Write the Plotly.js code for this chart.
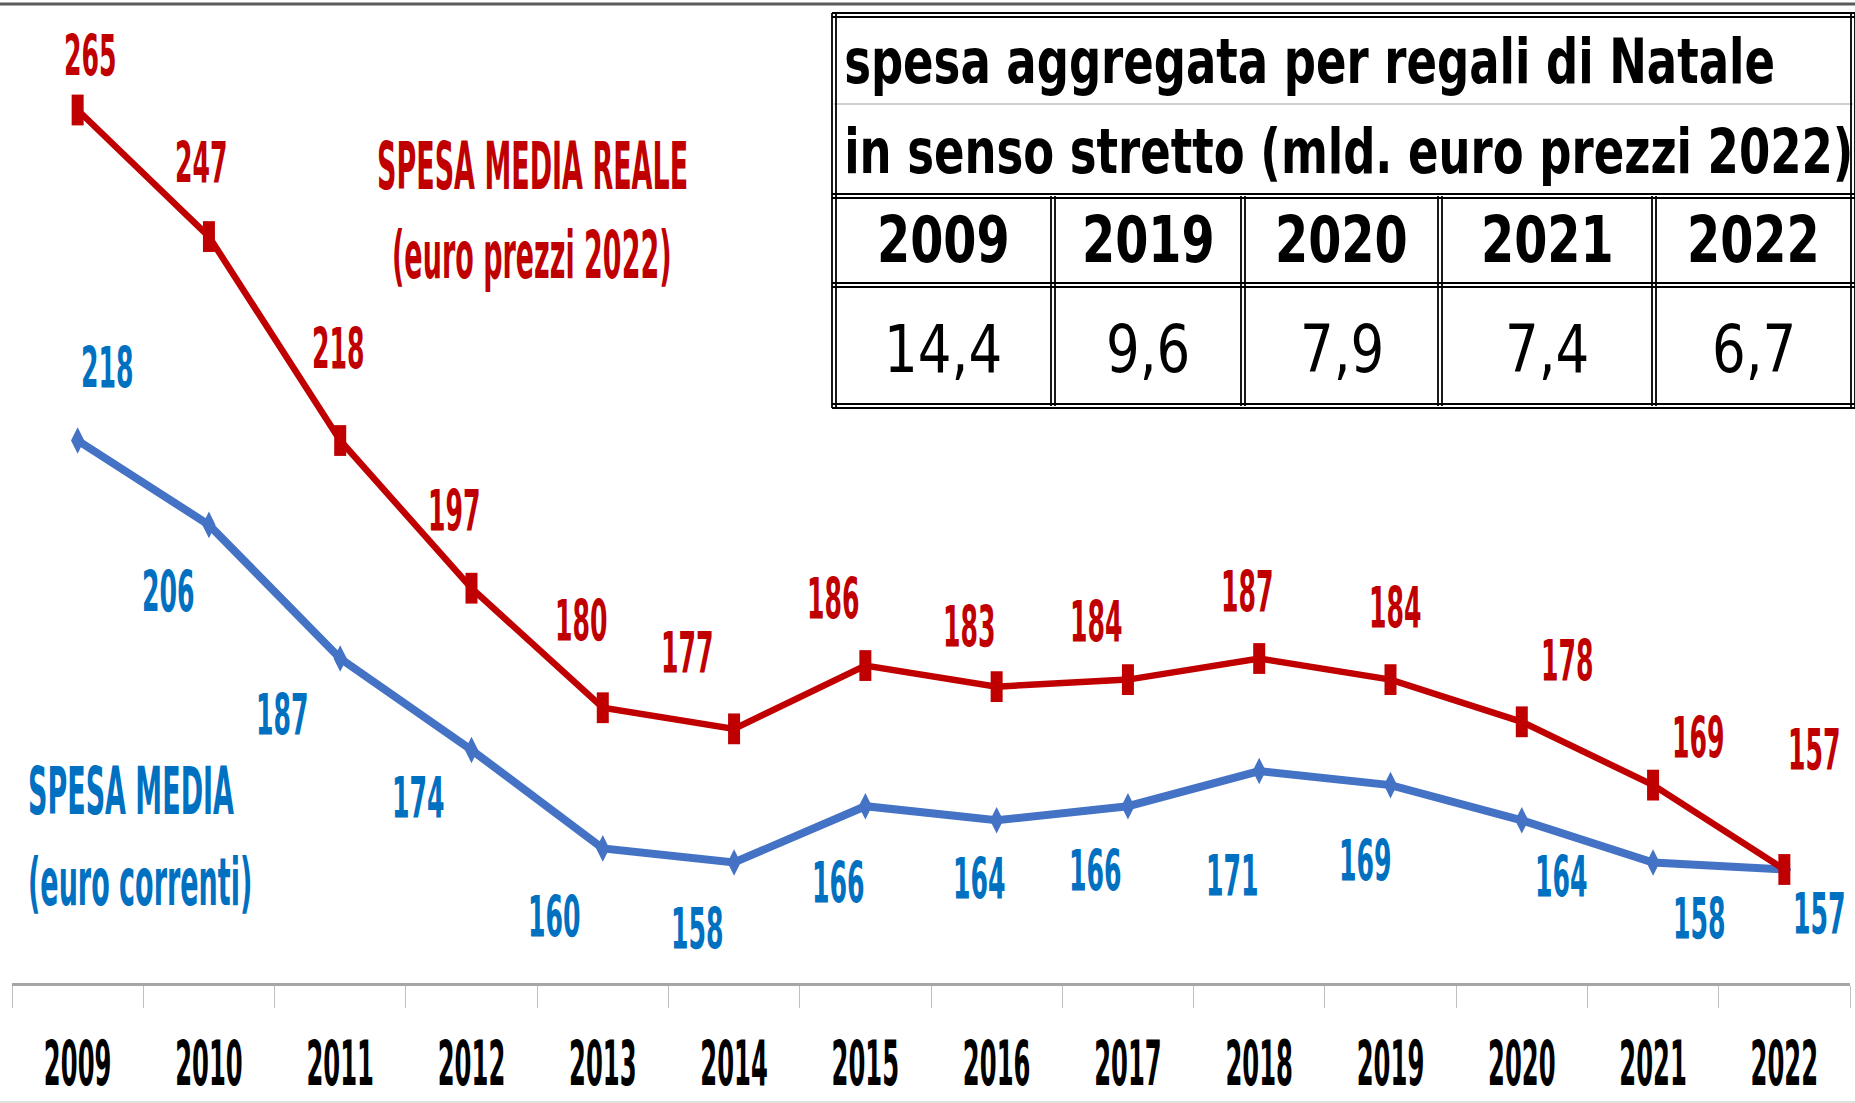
<!DOCTYPE html>
<html>
<head>
<meta charset="utf-8">
<script src="https://cdn.plot.ly/plotly-3.0.1.min.js"></script>
<style>
  html, body { margin: 0; padding: 0; background: #ffffff; }
  #chart { width: 1855px; height: 1103px; }
</style>
</head>
<body>
<div id="chart"></div>
<script>
// ---------- DATA ----------
const years = ['2009','2010','2011','2012','2013','2014','2015','2016','2017','2018','2019','2020','2021','2022'];
const spesaReale = [265, 247, 218, 197, 180, 177, 186, 183, 184, 187, 184, 178, 169, 157];
const spesaMedia = [218, 206, 187, 174, 160, 158, 166, 164, 166, 171, 169, 164, 158, 157];
const tableTitle1 = 'spesa aggregata per regali di Natale';
const tableTitle2 = 'in senso stretto (mld. euro prezzi 2022)';
const tableYears = ['2009', '2019', '2020', '2021', '2022'];
const tableValues = ['14,4', '9,6', '7,9', '7,4', '6,7'];
const labelReale = ['SPESA MEDIA REALE', '(euro prezzi 2022)'];
const labelMedia = ['SPESA MEDIA', '(euro correnti)'];

// ---------- LAYOUT HELPERS (positions / styles) ----------
const FONT = '"DejaVu Sans Condensed", "Liberation Sans Narrow", "Arial Narrow", sans-serif';
const RED = '#C00000', RED_TXT = '#C00000';
const BLUE = '#4472C4', BLUE_TXT = '#0070C0';
const W = 1855, H = 1103;
const M = {l: 12, r: 5, t: 0, b: 120};
const PW = W - M.l - M.r, PH = H - M.t - M.b;
const px = x => (x - M.l) / PW;
const py = y => 1 - (y - M.t) / PH;

// label offsets in pixels (dx, dy) relative to each point
const offReale = [[13,-53],[-7,-73],[-2,-91],[-17,-77],[-21,-86],[-47,-75],[-32,-66],[-27,-59],[-31,-57],[-12,-66],[5,-71],[46,-60],[45,-47],[30,-119]];
const offMedia = [[30,-72],[-40,68],[-58,57],[-53,49],[-48,69],[-37,67],[-27,77],[-17,59],[-32,65],[-27,105],[-25,76],[40,57],[46,57],[35,45]];

const annotations = [];
const stretchY = {};   // annotation index -> vertical stretch factor
function addAnn(a, k) { if (k) stretchY[annotations.length] = k; annotations.push(a); }

years.forEach((yr, i) => {
  addAnn({x: i, y: spesaReale[i], xref: 'x', yref: 'y', text: String(spesaReale[i]),
    showarrow: false, xshift: offReale[i][0], yshift: -offReale[i][1],
    xanchor: 'center', yanchor: 'middle',
    font: {family: FONT, size: 28, color: RED_TXT, weight: 'bold'}}, 2.05);
  addAnn({x: i, y: spesaMedia[i], xref: 'x', yref: 'y', text: String(spesaMedia[i]),
    showarrow: false, xshift: offMedia[i][0], yshift: -offMedia[i][1],
    xanchor: 'center', yanchor: 'middle',
    font: {family: FONT, size: 28, color: BLUE_TXT, weight: 'bold'}}, 2.05);
});
// series name labels
addAnn({x: px(532), y: py(166), xref: 'paper', yref: 'paper', text: labelReale[0], showarrow: false,
  xanchor: 'center', yanchor: 'middle', font: {family: FONT, size: 30, color: RED_TXT, weight: 'bold'}}, 2.2);
addAnn({x: px(532), y: py(254), xref: 'paper', yref: 'paper', text: labelReale[1], showarrow: false,
  xanchor: 'center', yanchor: 'middle', font: {family: FONT, size: 30, color: RED_TXT, weight: 'bold'}}, 2.2);
addAnn({x: px(26), y: py(790), xref: 'paper', yref: 'paper', text: labelMedia[0], showarrow: false,
  xanchor: 'left', yanchor: 'middle', font: {family: FONT, size: 30, color: BLUE_TXT, weight: 'bold'}}, 2.2);
addAnn({x: px(26), y: py(881), xref: 'paper', yref: 'paper', text: labelMedia[1], showarrow: false,
  xanchor: 'left', yanchor: 'middle', font: {family: FONT, size: 30, color: BLUE_TXT, weight: 'bold'}}, 2.2);

// ---------- TABLE ----------
const T = {L: 834, R: 1853, top: 15, r1: 104, r2: 196, r3: 285, bot: 406};
const colX = [T.L, 1053, 1243, 1440, 1654, T.R];
addAnn({x: px(842), y: py(62), xref: 'paper', yref: 'paper', text: tableTitle1, showarrow: false,
  xanchor: 'left', yanchor: 'middle', font: {family: FONT, size: 50, color: '#000', weight: 'bold'}}, 1.25);
addAnn({x: px(842), y: py(152), xref: 'paper', yref: 'paper', text: tableTitle2, showarrow: false,
  xanchor: 'left', yanchor: 'middle', font: {family: FONT, size: 50, color: '#000', weight: 'bold'}}, 1.25);
tableYears.forEach((yr, j) => {
  const cx = (colX[j] + colX[j+1]) / 2;
  addAnn({x: px(cx), y: py(240), xref: 'paper', yref: 'paper', text: yr, showarrow: false,
    xanchor: 'center', yanchor: 'middle', font: {family: FONT, size: 53, color: '#000', weight: 'bold'}}, 1.2);
  addAnn({x: px(cx), y: py(349), xref: 'paper', yref: 'paper', text: tableValues[j], showarrow: false,
    xanchor: 'center', yanchor: 'middle', font: {family: FONT, size: 59, color: '#000'}}, 1.12);
});

const shapes = [];
const hline = (x0, x1, y, color, w) => shapes.push({type: 'line', xref: 'paper', yref: 'paper',
  x0: px(x0), x1: px(x1), y0: py(y), y1: py(y), line: {color: color, width: w}});
const vline = (x, y0, y1, color, w) => shapes.push({type: 'line', xref: 'paper', yref: 'paper',
  x0: px(x), x1: px(x), y0: py(y0), y1: py(y1), line: {color: color, width: w}});
// white background for table
shapes.push({type: 'rect', xref: 'paper', yref: 'paper', x0: px(T.L), x1: px(T.R), y0: py(T.top), y1: py(T.bot),
  fillcolor: '#ffffff', line: {width: 0}, layer: 'above'});
// double borders
[T.top, T.r2, T.r3, T.bot].forEach(y => { hline(T.L - 2, T.R + 2, y - 2, '#000', 1.8); hline(T.L - 2, T.R + 2, y + 2, '#000', 1.8); });
hline(T.L, T.R, T.r1, '#D0D0D0', 2);
[T.L, T.R].forEach(x => { vline(x - 2, T.top - 2, T.bot + 2, '#000', 1.8); vline(x + 2, T.top - 2, T.bot + 2, '#000', 1.8); });
colX.slice(1, 5).forEach(x => { vline(x - 2, T.r2, T.bot, '#000', 1.8); vline(x + 2, T.r2, T.bot, '#000', 1.8); });
// chart frame lines
hline(0, W, 4, '#5A5A5A', 3);
hline(0, W, 1102, '#E0E0E0', 2);

// ---------- TRACES ----------
const traces = [
  {type: 'scatter', mode: 'lines+markers', x: years, y: spesaMedia, name: 'Spesa media',
   line: {color: BLUE, width: 8}, cliponaxis: false,
   marker: {symbol: 'diamond-tall', size: 19, color: BLUE}},
  {type: 'scatter', mode: 'lines+markers', x: years, y: spesaReale, name: 'Spesa media reale',
   line: {color: RED, width: 6.5}, cliponaxis: false,
   marker: {symbol: 'line-ns', size: 22, color: RED, line: {color: RED, width: 12}}}
];

const layout = {
  width: W, height: H,
  margin: M,
  paper_bgcolor: '#ffffff', plot_bgcolor: '#ffffff',
  showlegend: false,
  font: {family: FONT},
  xaxis: {
    type: 'category', range: [-0.5, 13.5], fixedrange: true,
    showgrid: false, zeroline: false,
    showline: true, linecolor: '#A6A6A6', linewidth: 3,
    ticks: 'outside', tickson: 'boundaries', ticklen: 22, tickwidth: 1, tickcolor: '#BFBFBF',
    ticklabelstandoff: 54,
    tickfont: {family: FONT, size: 27, color: '#000', weight: 'bold'}
  },
  yaxis: {
    range: [140.86, 280.64], visible: false, showgrid: false, zeroline: false, fixedrange: true
  },
  annotations: annotations,
  shapes: shapes
};

const gd = document.getElementById('chart');

function applyStretch(el, k) {
  const bb = el.getBBox();
  const cy = bb.y + bb.height / 2;
  const prev = el.getAttribute('transform') || '';
  el.setAttribute('transform', prev + ' translate(0,' + cy + ') scale(1,' + k + ') translate(0,' + (-cy) + ')');
}

Plotly.newPlot(gd, traces, layout, {staticPlot: true, displayModeBar: false}).then(() => {
  gd.querySelectorAll('.annotation').forEach(g => {
    const idx = parseInt(g.getAttribute('data-index'), 10);
    const t = g.querySelector('.annotation-text');
    if (!t || isNaN(idx) || !stretchY[idx]) return;
    applyStretch(t, stretchY[idx]);
  });
  gd.querySelectorAll('.xtick text').forEach(t => applyStretch(t, 2.3));
});
</script>
</body>
</html>
